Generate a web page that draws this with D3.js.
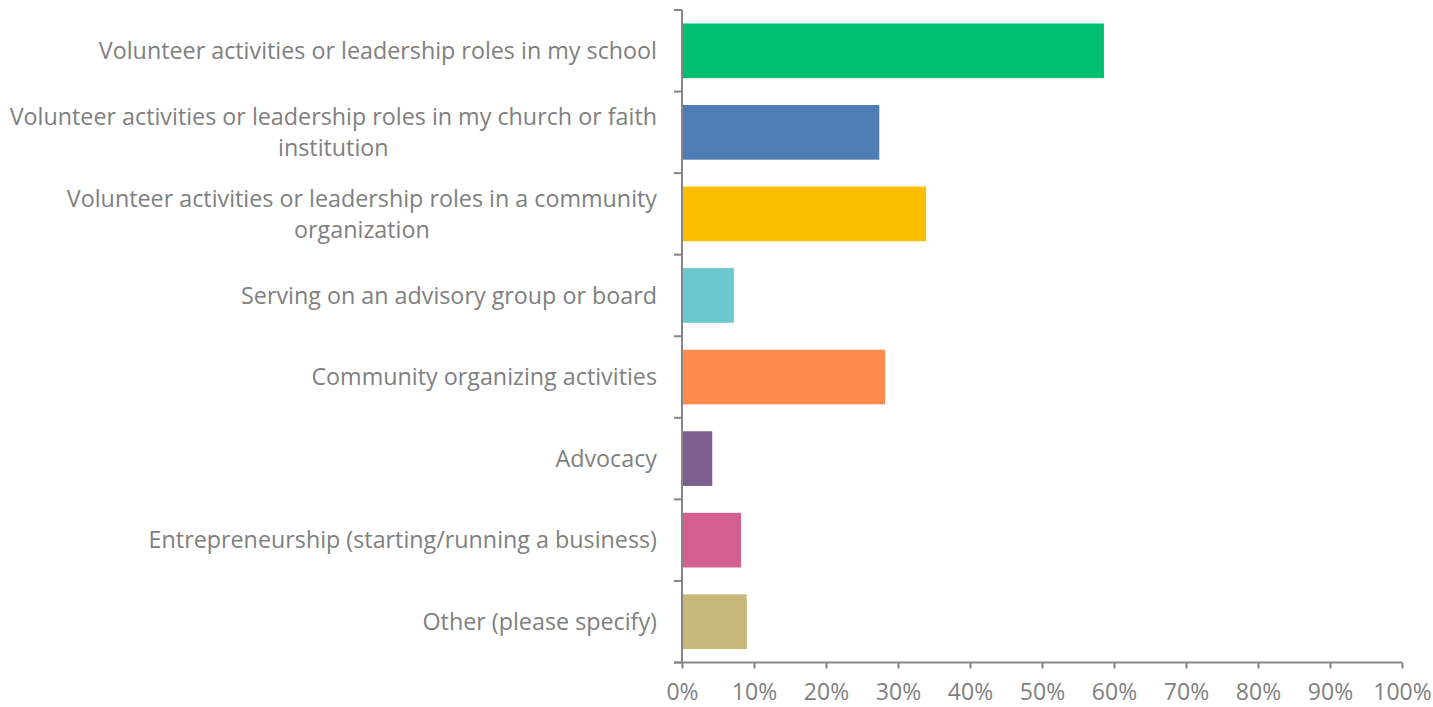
<!DOCTYPE html>
<html>
<head>
<meta charset="utf-8">
<script src="https://cdn.jsdelivr.net/npm/d3@7"></script>
<style>
  html, body { margin: 0; padding: 0; background: #fff; }
  svg { display: block; }
  text { font-family: "Open Sans", Lato, sans-serif; fill: #7f7f7f; }
</style>
</head>
<body>
<div id="chart"></div>
<script>
const categories = [
  "Volunteer activities or leadership roles in my school",
  "Volunteer activities or leadership roles in my church or faith\ninstitution",
  "Volunteer activities or leadership roles in a community\norganization",
  "Serving on an advisory group or board",
  "Community organizing activities",
  "Advocacy",
  "Entrepreneurship (starting/running a business)",
  "Other (please specify)"
];
const values = [58.6, 27.4, 33.9, 7.2, 28.2, 4.2, 8.2, 9.0];
const colors = ["#00BF6F", "#507CB6", "#F9BE00", "#6BC8CD", "#FF8B4F", "#7D5E90", "#D25F90", "#C7B879"];
const xTicks = [0, 10, 20, 30, 40, 50, 60, 70, 80, 90, 100];

const W = 1433, H = 707;
const m = { left: 682, right: 31, top: 10, bottom: 44.5 };

const svg = d3.select("#chart").append("svg").attr("width", W).attr("height", H);

const x = d3.scaleLinear().domain([0, 100]).range([m.left, W - m.right]);
const y = d3.scaleBand().domain(categories).range([m.top, H - m.bottom]).paddingInner(0.33).paddingOuter(0.165);

// bars
svg.append("g").selectAll("rect").data(categories).join("rect")
  .attr("x", x(0))
  .attr("y", d => y(d))
  .attr("width", (d, i) => x(values[i]) - x(0))
  .attr("height", y.bandwidth())
  .attr("fill", (d, i) => colors[i]);

const axisColor = "#868686";

// x axis
const xAxis = svg.append("g").attr("transform", `translate(0,${H - m.bottom})`)
  .call(d3.axisBottom(x).tickValues(xTicks).tickFormat(d => d + "%").tickSize(6).tickSizeOuter(0));
xAxis.select(".domain").attr("stroke", axisColor).attr("stroke-width", 2)
  .attr("d", `M${m.left - 8},0H${W - m.right}`);
xAxis.selectAll(".tick line").attr("stroke", axisColor).attr("stroke-width", 2);
xAxis.selectAll(".tick text").attr("y", 21).attr("dy", "0.71em").style("font-size", "23px").style("fill", "#7f7f7f");

// y axis
const yAxisG = svg.append("g").attr("transform", `translate(${m.left},0)`);
yAxisG.append("line").attr("x1", 0).attr("x2", 0).attr("y1", m.top).attr("y2", H - m.bottom)
  .attr("stroke", axisColor).attr("stroke-width", 2);
const bounds = d3.range(categories.length + 1).map(i => m.top + i * (H - m.top - m.bottom) / categories.length);
yAxisG.selectAll("line.tk").data(bounds).join("line").attr("class", "tk")
  .attr("x1", -8).attr("x2", 0).attr("y1", d => d).attr("y2", d => d)
  .attr("stroke", axisColor).attr("stroke-width", 2);

// labels
const lab = svg.append("g").selectAll("text").data(categories).join("text")
  .attr("text-anchor", "middle")
  .style("font-size", "23.3px")
  .attr("transform", d => `translate(0,${y(d) + y.bandwidth() / 2})`);
lab.each(function(d) {
  const lines = d.split("\n");
  const t = d3.select(this);
  const lh = 31;
  const y0 = -(lines.length - 1) * lh / 2;
  lines.forEach((ln, k) => {
    t.append("tspan").attr("y", y0 + k * lh).attr("dy", "0.35em").text(ln);
  });
});
lab.each(function() {
  const t = d3.select(this);
  const widths = t.selectAll("tspan").nodes().map(n => n.getComputedTextLength());
  const maxW = d3.max(widths);
  const cx = m.left - 25 - maxW / 2;
  t.selectAll("tspan").attr("x", cx);
});
</script>
</body>
</html>
